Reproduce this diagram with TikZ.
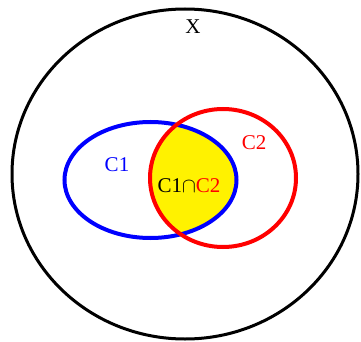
\documentclass[tikz,border=0pt]{standalone}
\usepackage{fontspec}
\setmainfont{Liberation Serif}
\begin{document}
\begin{tikzpicture}[x=1pt,y=-1pt,
  lbl/.style={font=\fontsize{21}{22}\selectfont, inner sep=0pt}]
\useasboundingbox (0,0) rectangle (361,342);
\fill[white] (0,0) rectangle (361,342);
% intersection fill
\begin{scope}
  \clip (150.5,180) ellipse [x radius=86, y radius=58];
  \fill[yellow] (223,178) ellipse [x radius=73, y radius=69];
\end{scope}
\draw[line width=3pt] (185,174) ellipse [x radius=173, y radius=165];
\draw[blue, line width=4pt] (150.5,180) ellipse [x radius=86, y radius=58];
\draw[red, line width=4pt] (223,178) ellipse [x radius=73, y radius=69];
\node[lbl] (X) at (193,27) {X};
\node[lbl, text=blue] (c1) at (117,165) {C1};
\node[lbl, text=red] (c2) at (254,143) {C2};
\node[lbl] (c12) at (189,186) {C1$\cap$\textcolor{red}{C2}};
\end{tikzpicture}
\end{document}
